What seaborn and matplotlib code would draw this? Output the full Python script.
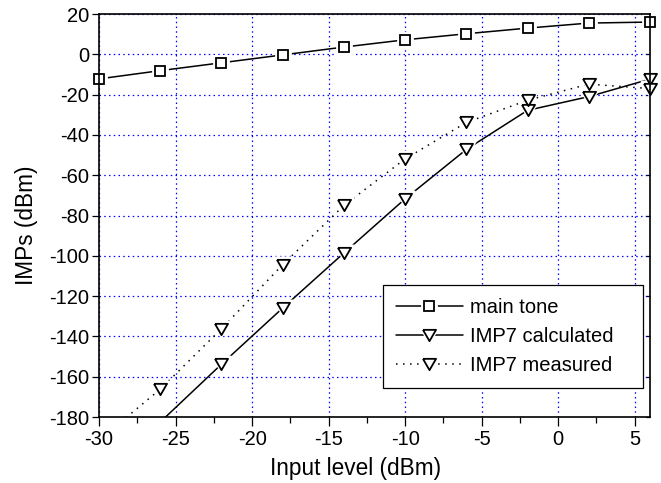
import matplotlib
matplotlib.use("Agg")
import matplotlib.pyplot as plt
from matplotlib.lines import Line2D
from matplotlib.legend_handler import HandlerTuple
from matplotlib.ticker import MultipleLocator
import numpy as np
import pandas as pd
import seaborn as sns

# Input power sweep (dBm)
input_level = [-30, -26, -22, -18, -14, -10, -6, -2, 2, 6]
# Fundamental output
main_tone = [-12.2, -8.1, -4.2, -0.3, 3.6, 7.2, 10.2, 13.0, 15.5, 16.0]
# 7th-order intermodulation product, model
imp7_calc_level = [-26, -22, -18, -14, -10, -6, -2, 2, 6]
imp7_calculated = [-182.5, -153.8, -125.9, -98.6, -71.7, -47.2, -27.8, -21.0, -12.3]
# 7th-order intermodulation product, bench measurement
imp7_measured = [-191.5, -166.2, -136.2, -104.4, -75.0, -51.9, -33.8, -22.8, -14.8, -17.0]

x_ticks = [-30, -25, -20, -15, -10, -5, 0, 5]
y_ticks = [-180, -160, -140, -120, -100, -80, -60, -40, -20, 0, 20]
x_limits = (-30, 6)
y_limits = (-180, 20)

sns.set_theme(style="white")
plt.rcParams["font.family"] = ["Liberation Sans", "DejaVu Sans"]
plt.rcParams["axes.unicode_minus"] = False
for key in ("text.color", "axes.labelcolor", "xtick.color", "ytick.color"):
    plt.rcParams[key] = "black"

fig, ax = plt.subplots(figsize=(6.61, 4.83), dpi=100)
fig.subplots_adjust(left=0.1498, right=0.9834, top=0.971, bottom=0.1366)

tri = [(-1.0, 0.866), (1.0, 0.866), (0.0, -0.866), (-1.0, 0.866)]

series = [
    ("main tone", input_level, main_tone, "s", 6.8, "-"),
    ("IMP7 calculated", imp7_calc_level, imp7_calculated, tri, 9.4, "-"),
    ("IMP7 measured", input_level, imp7_measured, tri, 9.4, (0, (1.0, 3.6))),
]

line_w = 1.1
edge_w = 1.3
halo_extra = 4.0

# connecting lines (clipped to the axes)
for name, xs, ys, mk, ms, ls in series:
    df = pd.DataFrame({"x": xs, "y": ys})
    sns.lineplot(data=df, x="x", y="y", ax=ax, color="black", linewidth=line_w,
                 linestyle=ls, sort=False, zorder=2)

# white halos break the line just around each symbol
for name, xs, ys, mk, ms, ls in series:
    df = pd.DataFrame({"x": xs, "y": ys})
    df = df[(df.y >= y_limits[0]) & (df.y <= y_limits[1])]
    sns.lineplot(data=df, x="x", y="y", ax=ax, linestyle="none", marker=mk,
                 markersize=ms + halo_extra, markerfacecolor="white",
                 markeredgecolor="white", markeredgewidth=edge_w, sort=False,
                 zorder=3, clip_on=False)

# open symbols
for name, xs, ys, mk, ms, ls in series:
    df = pd.DataFrame({"x": xs, "y": ys})
    df = df[(df.y >= y_limits[0]) & (df.y <= y_limits[1])]
    sns.lineplot(data=df, x="x", y="y", ax=ax, linestyle="none", marker=mk,
                 markersize=ms, markerfacecolor="white", markeredgecolor="black",
                 markeredgewidth=edge_w, sort=False, zorder=4, clip_on=False)

ax.set_xlim(*x_limits)
ax.set_ylim(*y_limits)
ax.set_xticks(x_ticks)
ax.set_yticks(y_ticks)
ax.xaxis.set_minor_locator(MultipleLocator(2.5))

ax.set_axisbelow(True)
ax.grid(True, which="major", color="#0000ff", linestyle=(0, (1.2, 2.6)),
        linewidth=0.9)
ax.grid(False, which="minor")

for side, sp in ax.spines.items():
    sp.set_visible(True)
    sp.set_color("black")
    sp.set_linewidth(1.2)
    sp.set_zorder(6)

ax.tick_params(axis="x", which="major", direction="out", length=6.5, width=0.9,
               color="black", labelsize=14.5, pad=3, bottom=True, top=False)
ax.tick_params(axis="x", which="minor", direction="out", length=4.5, width=0.9,
               color="black", bottom=True, top=False)
ax.tick_params(axis="y", which="major", direction="out", length=5, width=0.9,
               color="black", labelsize=14.5, pad=2, left=True, right=False)
ax.tick_params(axis="y", which="minor", left=False, right=False)

# short inward ticks along the right frame
ax_r = ax.secondary_yaxis("right")
ax_r.set_yticks(y_ticks)
ax_r.tick_params(direction="in", length=3, width=0.9, color="black",
                 labelright=False)
ax_r.spines["right"].set_visible(False)

ax.set_xlabel("Input level (dBm)", fontsize=16.3)
ax.set_ylabel("IMPs (dBm)", fontsize=16.3)
ax.xaxis.set_label_coords(0.466, -0.099)
ax.yaxis.set_label_coords(-0.11, 0.476)

# legend: line, white gap, open symbol
handles = []
labels = []
for name, xs, ys, mk, ms, ls in series:
    ln = Line2D([], [], color="black", linewidth=line_w, linestyle=ls)
    halo = Line2D([], [], linestyle="none", marker=mk, markersize=ms + halo_extra,
                  markerfacecolor="white", markeredgecolor="white",
                  markeredgewidth=edge_w)
    sym = Line2D([], [], linestyle="none", marker=mk, markersize=ms,
                 markerfacecolor="white", markeredgecolor="black",
                 markeredgewidth=edge_w)
    handles.append((ln, halo, sym))
    labels.append(name)

leg = ax.legend(handles, labels, handler_map={tuple: HandlerTuple(ndivide=1)},
                loc="upper left", bbox_to_anchor=(0.5154, 0.0719, 0.4719, 0.2556),
                mode="expand", borderaxespad=0, fontsize=14.5, handlelength=3.3,
                handletextpad=0.35, labelspacing=0.5, borderpad=0.65,
                frameon=True, fancybox=False, shadow=False, framealpha=1,
                edgecolor="black")
leg.get_frame().set_linewidth(0.9)
leg.set_zorder(7)

fig.savefig("out.png", dpi=100)
